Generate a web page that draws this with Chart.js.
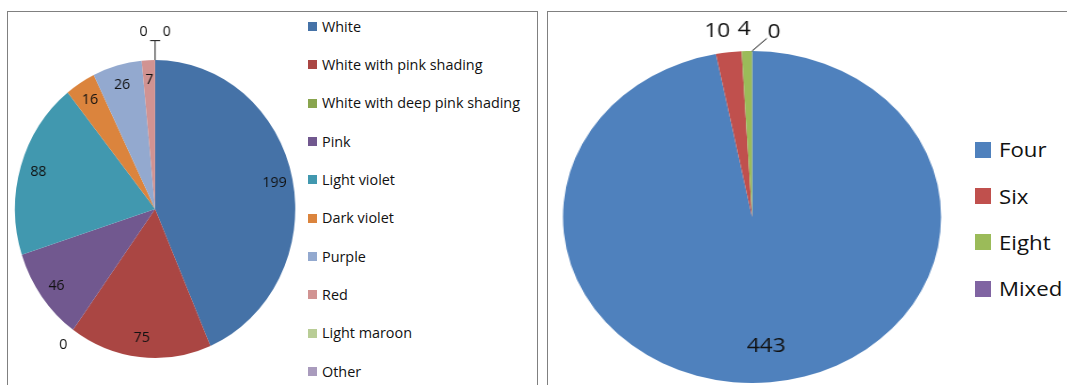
<!DOCTYPE html>
<html>
<head>
<meta charset="utf-8">
<script src="https://cdn.jsdelivr.net/npm/chart.js@4"></script>
<style>
body { margin: 0; background: #fff; width: 1067px; height: 385px; overflow: hidden; position: relative; font-family: "Open Sans", sans-serif; }
.box { position: absolute; border: 1px solid #808080; }
#box1 { left: 7px; top: 11px; width: 529px; height: 400px; }
#box2 { left: 547px; top: 11px; width: 540px; height: 400px; }
canvas { position: absolute; }
.legend { position: absolute; margin: 0; padding: 0; list-style: none; }
.legend li { position: absolute; left: 0; white-space: nowrap; color: #111; }
.legend i { display: inline-block; vertical-align: middle; }
.legend span { display: inline-block; vertical-align: middle; }
</style>
</head>
<body>
<div class="box" id="box1"></div>
<div class="box" id="box2"></div>
<canvas id="colourChart" width="320" height="385" style="left:0px;top:0px;width:300.7px;height:385px;"></canvas>
<canvas id="petalChart" width="360" height="385" style="left:550px;top:0px;width:410px;height:385px;"></canvas>
<ul class="legend" id="legend1" style="left:308px;top:0px;"></ul>
<ul class="legend" id="legend2" style="left:975px;top:0px;"></ul>
<script>
// flower colour counts (left pie)
const colourLabels = ["White", "White with pink shading", "White with deep pink shading", "Pink",
  "Light violet", "Dark violet", "Purple", "Red", "Light maroon", "Other"];
const colourCounts = [199, 75, 0, 46, 88, 16, 26, 7, 0, 0];
const colourColors = ["#4572A7", "#AA4643", "#89A54E", "#71588F", "#4198AF",
  "#DB843D", "#93A9CF", "#D19392", "#B9CD96", "#A99BBD"];

// petal number counts (right pie)
const petalLabels = ["Four", "Six", "Eight", "Mixed"];
const petalCounts = [443, 10, 4, 0];
const petalColors = ["#4F81BD", "#C0504D", "#9BBB59", "#8064A2"];

const deg = Math.PI / 180;

// draws the numbers on the slices, small ones outside, zeros with leader lines
const valueLabels = {
  id: 'valueLabels',
  afterDatasetsDraw(chart, args, opts) {
    const ctx = chart.ctx;
    const arcs = chart.getDatasetMeta(0).data;
    const data = chart.data.datasets[0].data;
    const total = data.reduce((a, b) => a + b, 0);
    const cx = arcs[0].x, cy = arcs[0].y, r = arcs[0].outerRadius;
    const pt = (a, d) => ({ x: cx + Math.cos(a) * d, y: cy + Math.sin(a) * d });
    ctx.save();
    ctx.font = opts.font;
    ctx.fillStyle = '#111';
    ctx.strokeStyle = '#111';
    ctx.lineWidth = 1;
    ctx.textAlign = 'center';
    ctx.textBaseline = 'middle';
    let i = 0;
    while (i < data.length) {
      const arc = arcs[i];
      if (data[i] === 0) {
        let j = i;
        while (j < data.length && data[j] === 0) j++;
        const n = j - i;
        const prevOutside = i > 0 && data[i - 1] > 0 && data[i - 1] / total < opts.outsideBelow;
        const shift = prevOutside ? opts.zeroShift : 0;
        const base = arc.startAngle;
        const p0 = pt(base, r);
        const p1 = pt(base, r * 1.13);
        if (n > 1) {
          ctx.beginPath(); ctx.moveTo(p0.x, p0.y); ctx.lineTo(p1.x, p1.y); ctx.stroke();
        }
        for (let k = 0; k < n; k++) {
          const a = base + shift + (k - (n - 1) / 2) * opts.zeroSpread;
          const L = pt(a, r * (n > 1 ? 1.19 : 1.12));
          if (n > 1) {
            const s = Math.sign(L.x - p1.x) || 1;
            ctx.beginPath(); ctx.moveTo(p1.x, p1.y); ctx.lineTo(L.x - s * 7, p1.y); ctx.stroke();
          } else if (shift !== 0) {
            const vx = p0.x - L.x, vy = p0.y - L.y, len = Math.hypot(vx, vy);
            ctx.beginPath(); ctx.moveTo(p0.x, p0.y);
            ctx.lineTo(L.x + vx / len * 9, L.y + vy / len * 9); ctx.stroke();
          }
          ctx.fillText(String(data[i + k]), L.x, L.y);
        }
        i = j;
        continue;
      }
      const mid = (arc.startAngle + arc.endAngle) / 2;
      const outside = data[i] / total < opts.outsideBelow;
      const L = pt(mid, r * (outside ? opts.outDist : opts.inDist));
      if (outside) {
        // outside labels hang off the slice edge, like the spreadsheet does
        ctx.textAlign = L.x < cx ? 'right' : 'left';
        ctx.fillText(String(data[i]), L.x + (L.x < cx ? 4 : -4), L.y);
        ctx.textAlign = 'center';
      } else {
        ctx.fillText(String(data[i]), L.x, L.y);
      }
      i++;
    }
    ctx.restore();
  }
};

function makePie(id, labels, values, colors, padding, labelOpts) {
  return new Chart(document.getElementById(id), {
    type: 'pie',
    data: {
      labels: labels,
      datasets: [{
        data: values,
        backgroundColor: colors,
        borderWidth: 0,
        hoverOffset: 0,
        offset: 0
      }]
    },
    options: {
      responsive: false,
      animation: false,
      devicePixelRatio: 1,
      layout: { padding: padding },
      events: [],
      plugins: {
        legend: { display: false },
        tooltip: { enabled: false },
        valueLabels: labelOpts
      }
    },
    plugins: [valueLabels]
  });
}

const chart1 = makePie('colourChart', colourLabels, colourCounts, colourColors,
  { left: 15.9, right: 6.1, top: 60, bottom: 27 },
  { font: '15px "Open Sans"', inDist: 0.87, outDist: 1.12, outsideBelow: 0.01, zeroShift: 6 * deg, zeroSpread: 8 * deg });

const chart2 = makePie('petalChart', petalLabels, petalCounts, petalColors,
  { left: 11.4, right: 16.6, top: 51, bottom: 2 },
  { font: '20px "Open Sans"', inDist: 0.78, outDist: 1.13, outsideBelow: 0.03, zeroShift: 6 * deg, zeroSpread: 8 * deg });

// html legends built from the chart data
function buildLegend(chart, el, firstY, step, box, fontSize, gap, stretch) {
  const ds = chart.data.datasets[0];
  chart.data.labels.forEach((lab, i) => {
    const li = document.createElement('li');
    const lh = Math.round(fontSize * 1.4);
    li.style.top = (firstY + i * step - lh / 2) + 'px';
    li.style.lineHeight = lh + 'px';
    li.style.fontSize = fontSize + 'px';
    const sw = document.createElement('i');
    sw.style.width = box + 'px';
    sw.style.height = box + 'px';
    sw.style.background = ds.backgroundColor[i];
    sw.style.marginRight = gap + 'px';
    const tx = document.createElement('span');
    tx.textContent = lab;
    if (stretch !== 1) {
      tx.style.transform = 'scaleX(' + stretch + ')';
      tx.style.transformOrigin = 'left center';
    }
    li.appendChild(sw);
    li.appendChild(tx);
    el.appendChild(li);
  });
}
buildLegend(chart1, document.getElementById('legend1'), 25.5, 38.33, 9, 14.4, 5, 1);
buildLegend(chart2, document.getElementById('legend2'), 147.5, 46.3, 16, 19.5, 8, 1.14);
</script>
</body>
</html>
